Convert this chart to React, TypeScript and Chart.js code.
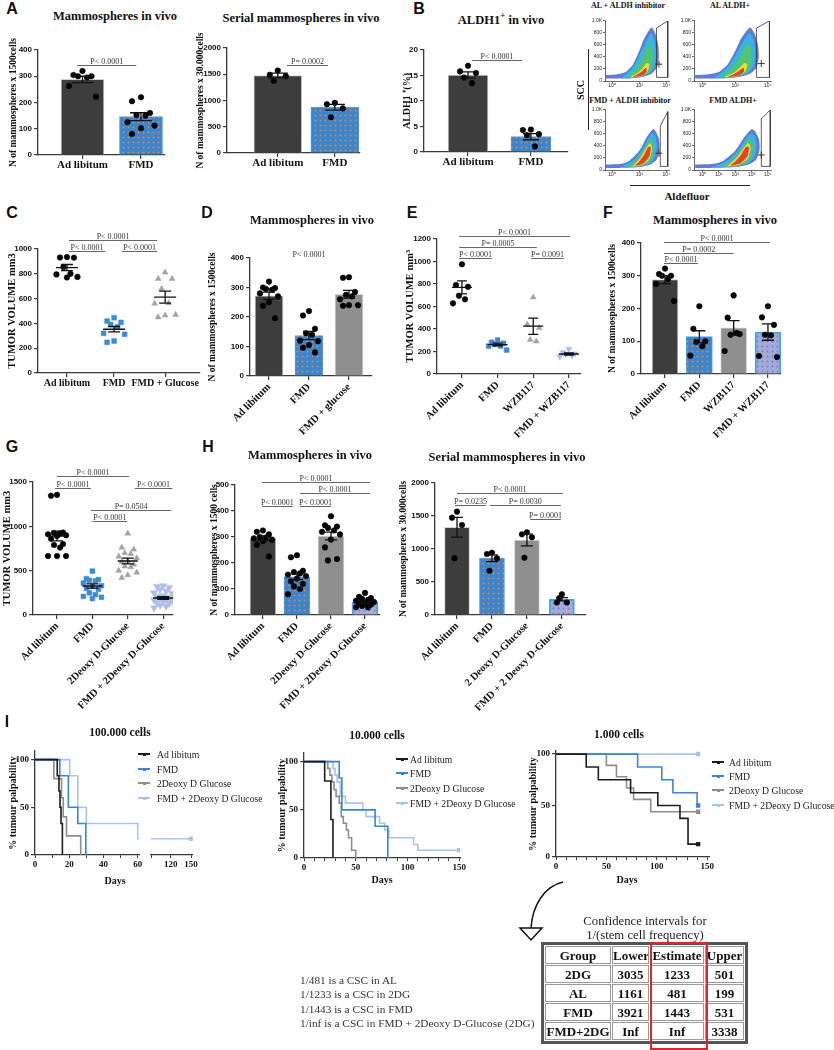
import React, { useEffect, useMemo, useRef } from 'react';
import { Chart, registerables } from 'chart.js';

Chart.register(...registerables);

const SERIF = '"Liberation Serif", "Times New Roman", serif';
const SANS = '"Liberation Sans", Arial, sans-serif';
const AX = '#3a3a3a';

/* ======================= DATA ======================= */
// A — Mammospheres in vivo
const A1_CATS = ['Ad libitum', 'FMD'];
const A1_MEAN = [288, 146];
const A1_SEM = [12, 15];
const A1_AL = [320, 305, 300, 300, 295, 263, 222];
const A1_FMD = [220, 205, 160, 152, 150, 125, 112, 102, 80];
// A — Serial mammospheres in vivo
const A2_CATS = ['Ad libitum', 'FMD'];
const A2_MEAN = [1475, 870];
const A2_SEM = [45, 55];
const A2_AL = [1570, 1490, 1465, 1375];
const A2_FMD = [955, 930, 850, 680];
// B — ALDH1+ in vivo
const B_CATS = ['Ad libitum', 'FMD'];
const B_MEAN = [15.1, 3.0];
const B_SEM = [0.6, 0.6];
const B_AL = [16.9, 15.8, 15.5, 14.6, 13.5];
const B_FMD = [4.4, 4.3, 3.5, 3.3, 1.1];
// C — tumor volume
const C_CATS = ['Ad libitum', 'FMD', 'FMD + Glucose'];
const C_MEAN = [850, 353, 612];
const C_SEM = [25, 22, 48];
const C_AL = [935, 932, 930, 855, 800, 795, 775, 770];
const C_FMD = [446, 419, 408, 392, 373, 320, 312, 258, 247];
const C_GLU = [812, 760, 760, 680, 565, 560, 470, 465, 450];
// D — mammospheres
const D_CATS = ['Ad libitum', 'FMD', 'FMD + glucose'];
const D_MEAN = [272, 137, 277];
const D_SEM = [12, 14, 13];
const D_AL = [320, 300, 298, 295, 292, 280, 270, 250, 238, 196];
const D_FMD = [220, 205, 160, 145, 140, 120, 118, 105, 96, 80];
const D_GLU = [335, 333, 285, 275, 270, 260, 240, 240, 238];
// E — tumor volume WZB117
const E_CATS = ['Ad libitum', 'FMD', 'WZB117', 'FMD + WZB117'];
const E_MEAN = [770, 262, 425, 178];
const E_SEM = [58, 12, 72, 10];
const E_AL = [975, 791, 776, 696, 664, 628];
const E_FMD = [302, 282, 273, 262, 249, 248, 213];
const E_WZB = [682, 440, 410, 305, 290];
const E_CMB = [222, 192, 180, 175, 165, 155];
// F — mammospheres WZB117
const F_CATS = ['Ad libitum', 'FMD', 'WZB117', 'FMD + WZB117'];
const F_MEAN = [288, 114, 141, 128];
const F_SEM = [12, 18, 22, 25];
const F_AL = [322, 305, 300, 300, 290, 275, 223];
const F_FMD = [207, 138, 100, 98, 85, 56];
const F_WZB = [240, 172, 122, 120, 125, 70];
const F_CMB = [207, 173, 150, 120, 118, 55, 52];
// G — tumor volume 2DG
const G_CATS = ['Ad libitum', 'FMD', '2Deoxy D-Glucose', 'FMD + 2Deoxy D-Glucose'];
const G_MEAN = [890, 327, 609, 192];
const G_SEM = [55, 25, 32, 15];
const G_AL = [1355, 1345, 930, 925, 920, 910, 900, 890, 860, 800, 790, 760, 665, 665, 665];
const G_FMD = [495, 410, 400, 390, 385, 360, 330, 320, 300, 290, 250, 230, 210, 200, 185];
const G_2DG = [920, 760, 740, 700, 690, 660, 640, 610, 600, 570, 550, 540, 500, 480, 450, 420];
const G_CMB = [330, 320, 310, 290, 270, 250, 240, 220, 210, 200, 190, 180, 170, 160, 150, 140, 130, 110, 100, 80];
// H — mammospheres 2DG
const H1_CATS = ['Ad libitum', 'FMD', '2Deoxy D-Glucose', 'FMD + 2Deoxy D-Glucose'];
const H1_MEAN = [295, 147, 304, 49];
const H1_SEM = [9, 11, 15, 4];
const H1_AL = [325, 320, 310, 300, 298, 295, 290, 285, 270, 225];
const H1_FMD = [230, 222, 170, 165, 160, 155, 150, 140, 130, 120, 110, 100, 80];
const H1_2DG = [380, 345, 340, 335, 325, 320, 310, 290, 260, 215, 210];
const H1_CMB = [85, 70, 65, 62, 58, 55, 50, 45, 45, 40, 35, 30, 30];
// H — serial mammospheres 2DG
const H2_CATS = ['Ad libitum', 'FMD', '2 Deoxy D-Glucose', 'FMD + 2 Deoxy D-Glucose'];
const H2_MEAN = [1330, 860, 1136, 238];
const H2_SEM = [150, 50, 90, 25];
const H2_AL = [1566, 1475, 1364, 859];
const H2_FMD = [944, 924, 859, 671];
const H2_2DG = [1252, 1222, 1177, 868];
const H2_CMB = [315, 190, 190, 255];

// I — Kaplan-Meier (tumour palpability, %)
const KM_NAMES = ['Ad libitum', 'FMD', '2Deoxy D Glucose', 'FMD + 2Deoxy D Glucose'];
const KM_COLORS = ['#1c1c1c', '#3a86d4', '#8d8d8d', '#a9c3ee'];
// 100.000 cells
const I1_AL_T = [0, 13, 14, 14.6, 15.2, 16];
const I1_AL_S = [100, 83, 67, 50, 33, 0];
const I1_FMD_T = [0, 14.5, 19.5, 25, 29.7];
const I1_FMD_S = [100, 83, 50, 33, 0];
const I1_2DG_T = [0, 11, 15.5, 16.5, 18.4, 26.7];
const I1_2DG_S = [100, 80, 60, 40, 20, 0];
const I1_CMB_T = [0, 20.3, 25, 30, 60, 150];
const I1_CMB_S = [100, 83, 50, 33, 17, 17];
// 10.000 cells
const I2_AL_T = [0, 20, 26, 28];
const I2_AL_S = [100, 80, 40, 0];
const I2_FMD_T = [0, 34, 36.6, 68.7, 81];
const I2_FMD_S = [100, 83, 50, 33, 0];
const I2_2DG_T = [0, 23, 25, 27, 29, 31, 34, 36, 38, 41, 43, 46, 50];
const I2_2DG_S = [100, 93, 86, 79, 71, 64, 57, 43, 36, 29, 21, 8, 0];
const I2_CMB_T = [0, 28, 30, 32, 35, 40, 57, 60, 73, 78, 82, 106, 110, 150];
const I2_CMB_S = [100, 93, 86, 79, 64, 57, 50, 43, 36, 29, 21, 14, 8, 8];
// 1.000 cells
const I3_AL_T = [0, 30, 42, 74, 101, 123, 131, 141];
const I3_AL_S = [100, 87.5, 75, 62.5, 50, 37.5, 12.5, 12.5];
const I3_FMD_T = [0, 81, 105, 116, 140, 141];
const I3_FMD_S = [100, 87.5, 75, 62.5, 50, 50];
const I3_2DG_T = [0, 50, 60, 70, 77, 94, 141];
const I3_2DG_S = [100, 89, 78, 67, 56, 44, 44];
const I3_CMB_T = [0, 141];
const I3_CMB_S = [100, 100];

// B — flow cytometry density contours (log10 Aldefluor, SCC)
const CLOUD_COLORS = ['#5f7cd9', '#38b4e0', '#52c470', '#e6dc3c', '#e4422c'];
const CLOUD_AL = [
  [[-0.45, 40], [0.5, 40], [1.5, 45], [2.3, 70], [2.9, 120], [3.3, 220], [3.45, 400], [3.4, 600], [3.2, 780], [2.95, 890], [2.8, 870], [2.35, 700], [2.0, 500], [1.5, 260], [1.0, 150], [0.3, 110], [-0.45, 100]],
  [[0.8, 50], [1.6, 55], [2.3, 80], [2.8, 140], [3.15, 260], [3.25, 450], [3.15, 650], [2.9, 800], [2.6, 700], [2.2, 520], [1.8, 330], [1.4, 190], [1.0, 110], [0.8, 80]],
  [[1.2, 55], [1.9, 68], [2.5, 110], [2.9, 220], [3.0, 400], [2.9, 600], [2.6, 560], [2.3, 400], [1.9, 250], [1.5, 140], [1.2, 85]],
  [[1.4, 60], [2.1, 80], [2.6, 150], [2.75, 280], [2.55, 300], [2.2, 200], [1.8, 120], [1.4, 80]],
  [[1.6, 65], [2.2, 90], [2.55, 160], [2.5, 220], [2.2, 160], [1.8, 100], [1.6, 80]],
];
const CLOUD_FMD = [
  [[-0.45, 35], [0.5, 35], [1.5, 40], [2.3, 60], [2.9, 100], [3.3, 180], [3.5, 350], [3.45, 520], [3.2, 650], [3.0, 680], [2.6, 560], [2.0, 320], [1.3, 160], [0.8, 110], [0.2, 95], [-0.45, 90]],
  [[0.8, 45], [1.6, 50], [2.4, 75], [2.9, 130], [3.2, 250], [3.3, 420], [3.15, 580], [2.9, 600], [2.55, 480], [2.1, 300], [1.6, 170], [1.1, 95], [0.8, 70]],
  [[1.2, 52], [2.0, 65], [2.6, 110], [3.0, 230], [3.1, 420], [2.9, 520], [2.6, 430], [2.2, 280], [1.8, 160], [1.4, 95], [1.2, 70]],
  [[1.5, 58], [2.2, 85], [2.75, 180], [2.95, 360], [2.8, 450], [2.5, 360], [2.1, 210], [1.7, 110]],
  [[1.7, 68], [2.3, 110], [2.75, 230], [2.85, 380], [2.65, 380], [2.35, 250], [2.0, 140], [1.75, 85]],
];
const GATE_TL = [[3.27, 60], [3.27, 880], [4.1, 1000], [4.1, 60], [3.27, 60]];
const GATE_TR = [[3.3, 60], [3.3, 880], [4.1, 1000], [4.1, 60], [3.3, 60]];
const GATE_BL = [[3.55, 60], [3.55, 730], [4.1, 970], [4.1, 60], [3.55, 60]];
const GATE_BR = [[3.6, 60], [3.6, 850], [4.15, 1000], [4.15, 60], [3.6, 60]];

// LDA table
const T_GROUPS = ['2DG', 'AL', 'FMD', 'FMD+2DG'];
const T_LOWER = ['3035', '1161', '3921', 'Inf'];
const T_EST = ['1233', '481', '1443', 'Inf'];
const T_UPPER = ['501', '199', '531', '3338'];
const CSC_LINES = [
  '1/481 is a CSC in AL',
  '1/1233 is a CSC in 2DG',
  '1/1443 is a CSC in FMD',
  '1/inf is a CSC in FMD + 2Deoxy D-Glucose (2DG)',
];

/* ======================= HELPERS ======================= */
type Plot = { l: number; t: number; r: number; b: number };
type Rect = { left: number; top: number; width: number; height: number };
type Spec = { rect: Rect; make: () => any };

const JIT = [0, -1, 1, -0.5, 0.5, -1.5, 1.5];

function rectOf(p: Plot, m: { l: number; t: number; r: number; b: number }): Rect {
  return { left: p.l - m.l, top: p.t - m.t, width: p.r - p.l + m.l + m.r, height: p.b - p.t + m.t + m.b };
}

const FILLS: Record<string, { bg: string; dot?: string; border: string; bw: number }> = {
  dark: { bg: '#3d3d3d', border: '#d0d0d0', bw: 1 },
  fmd: { bg: '#3a85d0', dot: '#e0883a', border: '#5d9ad8', bw: 1 },
  gray: { bg: '#8f8f8f', border: '#d4d4d4', bw: 1 },
  combo: { bg: '#a4abd8', dot: '#7580bd', border: '#3ca8ea', bw: 2 },
};

function paint(key: string): any {
  const f = FILLS[key];
  if (!f.dot) return f.bg;
  const c = document.createElement('canvas');
  c.width = 5;
  c.height = 5;
  const g = c.getContext('2d') as CanvasRenderingContext2D;
  g.fillStyle = f.bg;
  g.fillRect(0, 0, 5, 5);
  g.fillStyle = f.dot;
  g.beginPath();
  g.arc(2.5, 2.5, 0.95, 0, Math.PI * 2);
  g.fill();
  return g.createPattern(c, 'repeat');
}

interface Group { values: number[]; shape?: string; color?: string; r?: number; rot?: number }
interface Bracket { x1: number; x2: number; y: number; text: string }
interface DotSpec {
  plot: Plot; mt: number; mr: number; mb: number;
  yTitle: string; yTitleX: number; yTitleSize?: number;
  cats: string[]; pos?: number[]; rotate: boolean; catSize: number;
  xMin: number; xMax: number; yMax: number; yStep: number;
  means: number[]; sems: number[];
  bars?: { fills: string[]; thickness: number };
  meanW?: number; cap: number;
  groups: Group[]; spreadPx: number;
  brackets: Bracket[];
  notes?: { x: number; y: number; text: string }[];
}

const posOf = (s: DotSpec, i: number) => (s.pos ? s.pos[i] : i);

function annotPlugin(s: DotSpec) {
  return {
    id: 'annot',
    afterDatasetsDraw(chart: any) {
      const ctx = chart.ctx;
      const xs = chart.scales.x;
      const ys = chart.scales.y;
      ctx.save();
      ctx.strokeStyle = '#111';
      ctx.lineWidth = 1.3;
      s.means.forEach((mu, i) => {
        const px = xs.getPixelForValue(posOf(s, i));
        const hi = ys.getPixelForValue(mu + s.sems[i]);
        const lo = ys.getPixelForValue(mu - s.sems[i]);
        const py = ys.getPixelForValue(mu);
        ctx.beginPath();
        if (s.meanW) {
          ctx.moveTo(px - s.meanW / 2, py);
          ctx.lineTo(px + s.meanW / 2, py);
        }
        ctx.moveTo(px, hi);
        ctx.lineTo(px, lo);
        ctx.moveTo(px - s.cap / 2, hi);
        ctx.lineTo(px + s.cap / 2, hi);
        ctx.moveTo(px - s.cap / 2, lo);
        ctx.lineTo(px + s.cap / 2, lo);
        ctx.stroke();
      });
      ctx.strokeStyle = '#666';
      ctx.lineWidth = 1;
      ctx.fillStyle = '#333';
      ctx.font = `8px ${SERIF}`;
      ctx.textAlign = 'center';
      ctx.textBaseline = 'alphabetic';
      s.brackets.forEach((b) => {
        const x1 = xs.getPixelForValue(b.x1);
        const x2 = xs.getPixelForValue(b.x2);
        const y = Math.round(ys.getPixelForValue(b.y)) + 0.5;
        ctx.beginPath();
        ctx.moveTo(x1, y);
        ctx.lineTo(x2, y);
        ctx.stroke();
        ctx.fillText(b.text, (x1 + x2) / 2, y - 2);
      });
      ctx.textBaseline = 'middle';
      (s.notes || []).forEach((n) => {
        ctx.fillText(n.text, xs.getPixelForValue(n.x), ys.getPixelForValue(n.y));
      });
      ctx.restore();
    },
  };
}

function dotChart(s: DotSpec): Spec {
  const left = s.yTitleX - 8;
  const m = { l: s.plot.l - left, t: s.mt, r: s.mr, b: s.mb };
  const rect = rectOf(s.plot, m);
  const ppu = (s.plot.r - s.plot.l) / (s.xMax - s.xMin);
  const make = () => {
    const datasets: any[] = [];
    if (s.bars) {
      datasets.push({
        type: 'bar',
        data: s.means.map((v, i) => ({ x: posOf(s, i), y: v })),
        backgroundColor: s.bars.fills.map(paint),
        borderColor: s.bars.fills.map((f) => FILLS[f].border),
        borderWidth: s.bars.fills.map((f) => FILLS[f].bw),
        barThickness: s.bars.thickness,
        order: 3,
      });
    }
    s.groups.forEach((g, gi) => {
      datasets.push({
        type: 'scatter',
        data: g.values.map((v, k) => ({ x: posOf(s, gi) + (JIT[k % JIT.length] * s.spreadPx) / ppu, y: v })),
        pointStyle: g.shape || 'circle',
        pointRadius: g.r || 2.8,
        pointRotation: g.rot || 0,
        backgroundColor: g.color || '#000',
        borderColor: g.color || '#000',
        borderWidth: 0.5,
        order: 1,
      });
    });
    return {
      type: s.bars ? 'bar' : 'scatter',
      data: { datasets },
      options: {
        responsive: false,
        animation: false,
        events: [],
        layout: { padding: { top: m.t, right: m.r, bottom: 0, left: 0 } },
        plugins: { legend: { display: false }, tooltip: { enabled: false } },
        scales: {
          x: {
            type: 'linear', min: s.xMin, max: s.xMax, offset: false,
            afterFit: (sc: any) => { sc.height = m.b; },
            afterBuildTicks: (sc: any) => { sc.ticks = s.cats.map((_, i) => ({ value: posOf(s, i) })); },
            ticks: {
              autoSkip: false, maxRotation: s.rotate ? 45 : 0, minRotation: s.rotate ? 45 : 0,
              padding: s.rotate ? 1 : 0, color: '#111',
              font: { family: SERIF, size: s.catSize, weight: 'bold' },
              callback: (_v: any, idx: number) => (s.cats[idx] !== undefined ? s.cats[idx] : ''),
            },
            grid: { offset: false, drawOnChartArea: false, drawTicks: true, tickLength: 4, color: AX, lineWidth: 1.2 },
            border: { display: true, color: AX, width: 1.3 },
          },
          y: {
            type: 'linear', min: 0, max: s.yMax,
            afterFit: (sc: any) => { sc.width = m.l; },
            afterBuildTicks: (sc: any) => {
              const t: any[] = [];
              for (let v = 0; v <= s.yMax + 1e-9; v += s.yStep) t.push({ value: v });
              sc.ticks = t;
            },
            ticks: { color: '#111', padding: 2, font: { family: SANS, size: 8, weight: 'bold' }, callback: (v: any) => String(v) },
            grid: { drawOnChartArea: false, tickLength: 4, color: AX, lineWidth: 1.2 },
            border: { color: AX, width: 1.3 },
            title: {
              display: true, text: s.yTitle, color: '#111',
              font: { family: SERIF, size: s.yTitleSize || 9.5, weight: 'bold' },
              padding: { top: 2, bottom: 0 },
            },
          },
        },
      },
      plugins: [annotPlugin(s)],
    };
  };
  return { rect, make };
}

interface KMSeries { t: number[]; s: number[]; color: string; censor: boolean }
interface KMSpec {
  plot: Plot; showY: boolean; yTitleX: number;
  xMin: number; xMax: number; xTicks: number[]; xLabels: number[]; yMax: number;
  series: KMSeries[];
}

function kmChart(k: KMSpec): Spec {
  const left = k.showY ? k.yTitleX - 8 : k.plot.l - 4;
  const m = { l: k.plot.l - left, t: 8, r: 5, b: 18 };
  const rect = rectOf(k.plot, m);
  const make = () => ({
    type: 'line',
    data: {
      datasets: k.series.map((se) => ({
        data: se.t.map((t, i) => ({ x: t, y: se.s[i] })),
        borderColor: se.color,
        backgroundColor: se.color,
        borderWidth: 1.6,
        stepped: 'before',
        fill: false,
        pointStyle: 'rect',
        pointRadius: (c: any) => (se.censor && c.dataIndex === se.t.length - 1 ? 2 : 0),
        clip: { left: 0, right: 0, top: 4, bottom: 4 },
      })),
    },
    options: {
      responsive: false,
      animation: false,
      events: [],
      layout: { padding: { top: m.t, right: m.r, bottom: 0, left: k.showY ? 0 : m.l } },
      plugins: { legend: { display: false }, tooltip: { enabled: false } },
      scales: {
        x: {
          type: 'linear', min: k.xMin, max: k.xMax,
          afterFit: (sc: any) => { sc.height = m.b; },
          afterBuildTicks: (sc: any) => { sc.ticks = k.xTicks.map((v) => ({ value: v })); },
          ticks: {
            autoSkip: false, maxRotation: 0, padding: 1, color: '#111',
            font: { family: SERIF, size: 9, weight: 'bold' },
            callback: (v: any) => (k.xLabels.indexOf(v) >= 0 ? String(v) : ''),
          },
          grid: { drawOnChartArea: false, tickLength: 3, color: AX, lineWidth: 1 },
          border: { color: AX, width: 1.3 },
        },
        y: {
          display: k.showY, min: 0, max: k.yMax,
          afterFit: (sc: any) => { sc.width = m.l; },
          afterBuildTicks: (sc: any) => { sc.ticks = [0, 50, 100].map((v) => ({ value: v })); },
          ticks: { color: '#111', padding: 2, font: { family: SERIF, size: 9, weight: 'bold' } },
          grid: { drawOnChartArea: false, tickLength: 4, color: AX, lineWidth: 1.2 },
          border: { color: AX, width: 1.3 },
          title: {
            display: true, text: '% tumour palpability', color: '#111',
            font: { family: SERIF, size: 10, weight: 'bold' }, padding: { top: 2, bottom: 0 },
          },
        },
      },
    },
  });
  return { rect, make };
}

const SUP = ['⁰', '¹', '²', '³', '⁴'];

function flowChart(p: Plot, cloud: number[][][], gate: number[][], cross: number[], xt: number[]): Spec {
  const m = { l: 17, t: 3, r: 3, b: 10 };
  const rect = rectOf(p, m);
  const make = () => ({
    type: 'scatter',
    data: {
      datasets: [
        ...cloud.map((poly, k) => ({
          type: 'line',
          data: poly.map((q) => ({ x: Math.pow(10, q[0]), y: q[1] })),
          fill: 'shape',
          backgroundColor: CLOUD_COLORS[k],
          borderColor: 'rgba(0,0,0,0)',
          borderWidth: 0,
          pointRadius: 0,
          tension: 0.2,
          order: 10 - k,
        })),
        {
          type: 'line',
          data: gate.map((q) => ({ x: Math.pow(10, q[0]), y: q[1] })),
          fill: false,
          borderColor: '#333',
          borderWidth: 0.8,
          pointRadius: 0,
          order: 1,
        },
        {
          type: 'scatter',
          data: [{ x: Math.pow(10, cross[0]), y: cross[1] }],
          pointStyle: 'cross',
          pointRadius: 3.5,
          borderColor: '#222',
          borderWidth: 0.9,
          order: 0,
        },
      ],
    },
    options: {
      responsive: false,
      animation: false,
      events: [],
      layout: { padding: { top: m.t, right: m.r, bottom: 0, left: 0 } },
      plugins: { legend: { display: false }, tooltip: { enabled: false } },
      scales: {
        x: {
          type: 'logarithmic', min: Math.pow(10, -0.5), max: Math.pow(10, 4.2),
          afterFit: (sc: any) => { sc.height = m.b; },
          afterBuildTicks: (sc: any) => { sc.ticks = xt.map((v) => ({ value: Math.pow(10, v) })); },
          ticks: {
            autoSkip: false, maxRotation: 0, padding: 0, color: '#222',
            font: { family: SANS, size: 5 },
            callback: (v: any) => '10' + SUP[Math.round(Math.log10(v))],
          },
          grid: { drawOnChartArea: false, tickLength: 2, color: '#444', lineWidth: 0.8 },
          border: { color: '#444', width: 0.8 },
        },
        y: {
          min: 0, max: 1000,
          afterFit: (sc: any) => { sc.width = m.l; },
          afterBuildTicks: (sc: any) => { sc.ticks = [0, 200, 400, 600, 800, 1000].map((v) => ({ value: v })); },
          ticks: {
            color: '#222', padding: 1, font: { family: SANS, size: 5 },
            callback: (v: any) => (v === 1000 ? '1.0K' : String(v)),
          },
          grid: { drawOnChartArea: false, tickLength: 2, color: '#444', lineWidth: 0.8 },
          border: { color: '#444', width: 0.8 },
        },
      },
    },
  });
  return { rect, make };
}

/* ======================= SPECS ======================= */
const CIRC = (values: number[]): Group => ({ values, shape: 'circle', color: '#000', r: 2.8 });
const SQ = (values: number[]): Group => ({ values, shape: 'rect', color: '#3d8ad6', r: 3.4 });
const TRI = (values: number[]): Group => ({ values, shape: 'triangle', color: '#a3a3a3', r: 3.4 });
const INV = (values: number[], r: number): Group => ({ values, shape: 'triangle', color: '#b0bdea', r, rot: 180 });
const TEN = [0, 10, 20, 30, 40, 50, 60, 70, 80, 90, 100, 110, 120, 130, 140, 150];

function buildSpecs(): Spec[] {
  const specs: Spec[] = [];
  specs.push(dotChart({
    plot: { l: 38, t: 50, r: 165, b: 155 }, mt: 15, mr: 8, mb: 28,
    yTitle: 'N of mammospheres x 1500cells', yTitleX: 14,
    cats: A1_CATS, rotate: false, catSize: 11, xMin: -0.76, xMax: 1.41, yMax: 400, yStep: 100,
    means: A1_MEAN, sems: A1_SEM, bars: { fills: ['dark', 'fmd'], thickness: 43 }, cap: 22,
    groups: [CIRC(A1_AL), CIRC(A1_FMD)], spreadPx: 9,
    brackets: [{ x1: -0.09, x2: 0.92, y: 343, text: 'P< 0.0001' }],
  }));
  specs.push(dotChart({
    plot: { l: 227, t: 48, r: 360, b: 153 }, mt: 15, mr: 8, mb: 28,
    yTitle: 'N of mammospheres x 30.000cells', yTitleX: 201,
    cats: A2_CATS, rotate: false, catSize: 11, xMin: -0.89, xMax: 1.44, yMax: 2000, yStep: 500,
    means: A2_MEAN, sems: A2_SEM, bars: { fills: ['dark', 'fmd'], thickness: 48 }, cap: 20,
    groups: [CIRC(A2_AL), CIRC(A2_FMD)], spreadPx: 8,
    brackets: [{ x1: 0.16, x2: 0.88, y: 1676, text: 'P= 0.0002' }],
  }));
  specs.push(dotChart({
    plot: { l: 424, t: 50, r: 568, b: 152 }, mt: 15, mr: 8, mb: 28,
    yTitle: 'ALDH1 ⁺(%)', yTitleX: 407, yTitleSize: 10,
    cats: B_CATS, rotate: false, catSize: 11, xMin: -0.7, xMax: 1.59, yMax: 20, yStep: 5,
    means: B_MEAN, sems: B_SEM, bars: { fills: ['dark', 'fmd'], thickness: 40 }, cap: 16,
    groups: [CIRC(B_AL), CIRC(B_FMD)], spreadPx: 8,
    brackets: [{ x1: 0.06, x2: 0.86, y: 18, text: 'P< 0.0001' }],
  }));
  specs.push(dotChart({
    plot: { l: 38, t: 249, r: 200, b: 373 }, mt: 22, mr: 8, mb: 24,
    yTitle: 'TUMOR VOLUME mm3', yTitleX: 12, yTitleSize: 10.5,
    cats: C_CATS, pos: [0, 0.96, 2], rotate: false, catSize: 10, xMin: -0.59, xMax: 2.71, yMax: 1000, yStep: 200,
    means: C_MEAN, sems: C_SEM, meanW: 22, cap: 12,
    groups: [CIRC(C_AL), SQ(C_FMD), TRI(C_GLU)], spreadPx: 7,
    brackets: [
      { x1: 0.04, x2: 1.84, y: 1073, text: 'P< 0.0001' },
      { x1: 0.04, x2: 0.78, y: 984, text: 'P< 0.0001' },
      { x1: 1.12, x2: 1.84, y: 984, text: 'P< 0.0001' },
    ],
  }));
  specs.push(dotChart({
    plot: { l: 250, t: 258, r: 372, b: 376 }, mt: 14, mr: 6, mb: 80,
    yTitle: 'N of mammospheres x 1500cells', yTitleX: 213,
    cats: D_CATS, rotate: true, catSize: 10.5, xMin: -0.475, xMax: 2.575, yMax: 400, yStep: 100,
    means: D_MEAN, sems: D_SEM, bars: { fills: ['dark', 'fmd', 'gray'], thickness: 28 }, cap: 12,
    groups: [CIRC(D_AL), CIRC(D_FMD), CIRC(D_GLU)], spreadPx: 6,
    brackets: [], notes: [{ x: 1, y: 410, text: 'P< 0.0001' }],
  }));
  specs.push(dotChart({
    plot: { l: 437, t: 239, r: 581, b: 374 }, mt: 14, mr: 6, mb: 90,
    yTitle: 'TUMOR VOLUME mm³', yTitleX: 410, yTitleSize: 10.5,
    cats: E_CATS, rotate: true, catSize: 10.5, xMin: -0.7, xMax: 3.34, yMax: 1200, yStep: 200,
    means: E_MEAN, sems: E_SEM, meanW: 20, cap: 10,
    groups: [CIRC(E_AL), SQ(E_FMD), TRI(E_WZB), INV(E_CMB, 3.6)], spreadPx: 6,
    brackets: [
      { x1: -0.08, x2: 3.03, y: 1227, text: 'P< 0.0001' },
      { x1: -0.08, x2: 2.1, y: 1129, text: 'P= 0.0005' },
      { x1: -0.08, x2: 0.84, y: 1031, text: 'P< 0.0001' },
      { x1: 1.94, x2: 2.86, y: 1031, text: 'P= 0.0091' },
    ],
  }));
  specs.push(dotChart({
    plot: { l: 641, t: 243, r: 781, b: 374 }, mt: 14, mr: 6, mb: 90,
    yTitle: 'N of mammospheres x 1500cells', yTitleX: 613,
    cats: F_CATS, rotate: true, catSize: 10.5, xMin: -0.7, xMax: 3.38, yMax: 400, yStep: 100,
    means: F_MEAN, sems: F_SEM, bars: { fills: ['dark', 'fmd', 'gray', 'combo'], thickness: 26 }, cap: 12,
    groups: [CIRC(F_AL), CIRC(F_FMD), CIRC(F_WZB), CIRC(F_CMB)], spreadPx: 6,
    brackets: [
      { x1: -0.03, x2: 3.06, y: 403, text: 'P< 0.0001' },
      { x1: -0.03, x2: 2.0, y: 369, text: 'P= 0.0002' },
      { x1: -0.03, x2: 0.96, y: 339, text: 'P< 0.0001' },
    ],
  }));
  specs.push(dotChart({
    plot: { l: 33, t: 482, r: 173, b: 615 }, mt: 16, mr: 6, mb: 105,
    yTitle: 'TUMOR VOLUME mm3', yTitleX: 7, yTitleSize: 10.5,
    cats: G_CATS, rotate: true, catSize: 10.5, xMin: -0.68, xMax: 3.28, yMax: 1500, yStep: 500,
    means: G_MEAN, sems: G_SEM, meanW: 20, cap: 12,
    groups: [CIRC(G_AL), SQ(G_FMD), TRI(G_2DG), INV(G_CMB, 4.2)], spreadPx: 6,
    brackets: [
      { x1: 0, x2: 2.04, y: 1568, text: 'P< 0.0001' },
      { x1: -0.06, x2: 0.96, y: 1432, text: 'P< 0.0001' },
      { x1: 2.2, x2: 3.26, y: 1432, text: 'P< 0.0001' },
      { x1: 0.96, x2: 3.23, y: 1184, text: 'P= 0.0504' },
      { x1: 1.0, x2: 1.98, y: 1060, text: 'P< 0.0001' },
    ],
  }));
  specs.push(dotChart({
    plot: { l: 235, t: 485, r: 380, b: 615 }, mt: 12, mr: 6, mb: 105,
    yTitle: 'N of mammospheres x 1500 cells', yTitleX: 215,
    cats: H1_CATS, rotate: true, catSize: 10.5, xMin: -0.82, xMax: 3.44, yMax: 500, yStep: 100,
    means: H1_MEAN, sems: H1_SEM, bars: { fills: ['dark', 'fmd', 'gray', 'combo'], thickness: 26 }, cap: 12,
    groups: [CIRC(H1_AL), CIRC(H1_FMD), CIRC(H1_2DG), CIRC(H1_CMB)], spreadPx: 6,
    brackets: [
      { x1: -0.03, x2: 3.15, y: 512, text: 'P< 0.0001' },
      { x1: 1.09, x2: 3.15, y: 469, text: 'P< 0.0001' },
      { x1: -0.03, x2: 0.88, y: 419, text: 'P< 0.0001' },
      { x1: 1.09, x2: 2.0, y: 419, text: 'P< 0.0001' },
    ],
  }));
  specs.push(dotChart({
    plot: { l: 435, t: 483, r: 586, b: 615 }, mt: 12, mr: 6, mb: 112,
    yTitle: 'N of mammospheres x 30.000cells', yTitleX: 404,
    cats: H2_CATS, rotate: true, catSize: 10.5, xMin: -0.63, xMax: 3.69, yMax: 2000, yStep: 500,
    means: H2_MEAN, sems: H2_SEM, bars: { fills: ['dark', 'fmd', 'gray', 'combo'], thickness: 25 }, cap: 12,
    groups: [CIRC(H2_AL), CIRC(H2_FMD), CIRC(H2_2DG), CIRC(H2_CMB)], spreadPx: 5,
    brackets: [
      { x1: 0, x2: 3.03, y: 1848, text: 'P< 0.0001' },
      { x1: -0.06, x2: 0.83, y: 1667, text: 'P= 0.0235' },
      { x1: 0.94, x2: 2.97, y: 1667, text: 'P= 0.0030' },
      { x1: 2.09, x2: 2.97, y: 1455, text: 'P= 0.0001' },
    ],
  }));

  const ser = (ts: number[][], ss: number[][], cens: boolean[]): KMSeries[] =>
    ts.map((t, i) => ({ t, s: ss[i], color: KM_COLORS[i], censor: cens[i] }));
  const I1 = ser([I1_AL_T, I1_FMD_T, I1_2DG_T, I1_CMB_T], [I1_AL_S, I1_FMD_S, I1_2DG_S, I1_CMB_S], [false, false, false, true]);
  const I2 = ser([I2_AL_T, I2_FMD_T, I2_2DG_T, I2_CMB_T], [I2_AL_S, I2_FMD_S, I2_2DG_S, I2_CMB_S], [false, false, false, true]);
  const I3 = ser([I3_AL_T, I3_FMD_T, I3_2DG_T, I3_CMB_T], [I3_AL_S, I3_FMD_S, I3_2DG_S, I3_CMB_S], [true, true, true, true]);
  specs.push(kmChart({ plot: { l: 35, t: 751, r: 140, b: 855 }, showY: true, yTitleX: 13, xMin: 0, xMax: 61, xTicks: [0, 10, 20, 30, 40, 50, 60], xLabels: [0, 20, 40, 60], yMax: 109, series: I1 }));
  specs.push(kmChart({ plot: { l: 147, t: 751, r: 194, b: 855 }, showY: false, yTitleX: 0, xMin: 91, xMax: 152.6, xTicks: [91, 120, 150], xLabels: [120, 150], yMax: 109, series: I1 }));
  specs.push(kmChart({ plot: { l: 304, t: 753, r: 462, b: 858 }, showY: true, yTitleX: 282, xMin: 0, xMax: 151, xTicks: TEN, xLabels: [0, 50, 100, 150], yMax: 109, series: I2 }));
  specs.push(kmChart({ plot: { l: 556, t: 751, r: 710, b: 857 }, showY: true, yTitleX: 533, xMin: 0, xMax: 152, xTicks: TEN, xLabels: [0, 50, 100, 150], yMax: 103, series: I3 }));

  specs.push(flowChart({ l: 605, t: 19, r: 671, b: 81 }, CLOUD_AL, GATE_TL, [3.45, 280], [0, 2, 4]));
  specs.push(flowChart({ l: 694, t: 19, r: 773, b: 81 }, CLOUD_AL, GATE_TR, [3.6, 290], [0, 2, 4]));
  specs.push(flowChart({ l: 605, t: 108, r: 671, b: 170 }, CLOUD_FMD, GATE_BL, [3.45, 280], [0, 2, 4]));
  specs.push(flowChart({ l: 694, t: 108, r: 773, b: 170 }, CLOUD_FMD, GATE_BR, [3.6, 250], [0, 1, 2, 3, 4]));
  return specs;
}

/* ======================= COMPONENTS ======================= */
function ChartBox({ spec }: { spec: Spec }) {
  const ref = useRef<HTMLCanvasElement | null>(null);
  useEffect(() => {
    if (!ref.current) return;
    const chart = new Chart(ref.current, spec.make());
    return () => chart.destroy();
  }, [spec]);
  const r = spec.rect;
  return (
    <canvas
      ref={ref}
      width={r.width}
      height={r.height}
      style={{ position: 'absolute', left: r.left, top: r.top, width: r.width, height: r.height }}
    />
  );
}

function T(props: { x: number; y: number; size?: number; bold?: boolean; family?: string; rot?: number; left?: boolean; color?: string; children: any }) {
  const { x, y, size = 12.5, bold = true, family = SERIF, rot = 0, left = false, color = '#111', children } = props;
  return (
    <div
      style={{
        position: 'absolute', left: x, top: y, whiteSpace: 'nowrap', lineHeight: 1,
        transform: `${left ? 'translate(0,-50%)' : 'translate(-50%,-50%)'} rotate(${rot}deg)`,
        font: `${bold ? 'bold ' : ''}${size}px ${family}`, color,
      }}
    >
      {children}
    </div>
  );
}

function KMLegend({ x, tx, ys }: { x: number; tx: number; ys: number[] }) {
  return (
    <>
      {KM_NAMES.map((n, i) => (
        <React.Fragment key={i}>
          <div style={{ position: 'absolute', left: x, top: ys[i] - 0.75, width: 12, height: 1.5, background: KM_COLORS[i] }} />
          <div style={{ position: 'absolute', left: x + 4.5, top: ys[i] - 1.5, width: 3, height: 3, background: KM_COLORS[i] }} />
          <T x={tx} y={ys[i]} left bold={false} size={9.7} color="#222">{n}</T>
        </React.Fragment>
      ))}
    </>
  );
}

const cellStyle: React.CSSProperties = {
  border: '1.5px solid #9a9a9a', textAlign: 'center', padding: 0, height: 18, lineHeight: '15px',
  boxSizing: 'border-box', overflow: 'hidden', whiteSpace: 'nowrap',
};

export default function App() {
  const specs = useMemo(() => buildSpecs(), []);
  const L = (ch: string, x: number, y: number) => <T x={x} y={y} size={16} family={SANS}>{ch}</T>;
  return (
    <div style={{ position: 'absolute', left: 0, top: 0, width: 834, height: 1050, background: '#fff', overflow: 'hidden' }}>
      {specs.map((sp, i) => <ChartBox key={i} spec={sp} />)}

      {L('A', 12, 9)}{L('B', 419, 9)}
      {L('C', 12, 213)}{L('D', 207, 213)}{L('E', 412, 213)}{L('F', 608, 213)}
      {L('G', 12, 447)}{L('H', 208, 447)}{L('I', 7, 722)}

      <T x={115} y={16}>Mammospheres in vivo</T>
      <T x={301} y={18}>Serial mammospheres in vivo</T>
      <T x={501} y={19}>ALDH1<sup style={{ fontSize: 9 }}>+</sup> in vivo</T>
      <T x={312} y={220}>Mammospheres in vivo</T>
      <T x={715} y={220}>Mammospheres in vivo</T>
      <T x={310} y={455}>Mammospheres in vivo</T>
      <T x={507} y={457}>Serial mammospheres in vivo</T>

      <T x={628} y={5} size={8}>AL + ALDH inhibitor</T>
      <T x={730} y={5} size={8}>AL ALDH+</T>
      <T x={630} y={100} size={8}>FMD + ALDH inhibitor</T>
      <T x={733} y={100} size={8}>FMD ALDH+</T>
      <T x={580} y={90} size={10} rot={-90}>SCC</T>
      <div style={{ position: 'absolute', left: 588, top: 49, width: 1.3, height: 81, background: '#222' }} />
      <div style={{ position: 'absolute', left: 630, top: 185, width: 120, height: 1.3, background: '#222' }} />
      <T x={687} y={196} size={11}>Aldefluor</T>

      <T x={120} y={732} size={11.5}>100.000 cells</T>
      <T x={377} y={735} size={11.5}>10.000 cells</T>
      <T x={619} y={734} size={11.5}>1.000 cells</T>
      <T x={115} y={880} size={10}>Days</T>
      <T x={382} y={879} size={10}>Days</T>
      <T x={627} y={879} size={10}>Days</T>
      <KMLegend x={138} tx={157} ys={[754, 769, 783, 798]} />
      <KMLegend x={396} tx={410} ys={[759, 773, 788, 803]} />
      <KMLegend x={712} tx={729} ys={[762, 776, 790, 805]} />

      <svg width={834} height={1050} style={{ position: 'absolute', left: 0, top: 0, pointerEvents: 'none' }}>
        <path d="M 563 882 C 545 886, 532 905, 531 929" fill="none" stroke="#111" strokeWidth={1.5} />
        <polygon points="520,928 542,928 531,940" fill="#fff" stroke="#111" strokeWidth={1.5} />
      </svg>

      <T x={645} y={921} bold={false} size={12.7} color="#222">Confidence intervals for</T>
      <T x={645} y={935} bold={false} size={12.7} color="#222">1/(stem cell frequency)</T>
      <div style={{ position: 'absolute', left: 541, top: 942, border: '3px solid #555', background: '#fff' }}>
        <table style={{ borderCollapse: 'separate', borderSpacing: 1, font: `bold 13px ${SERIF}`, color: '#111', tableLayout: 'fixed', width: 201 }}>
          <tbody>
            <tr>
              <td style={{ ...cellStyle, width: 66 }}>Group</td>
              <td style={{ ...cellStyle, width: 37 }}>Lower</td>
              <td style={{ ...cellStyle, width: 54 }}>Estimate</td>
              <td style={{ ...cellStyle, width: 39 }}>Upper</td>
            </tr>
            {T_GROUPS.map((g, i) => (
              <tr key={g}>
                <td style={cellStyle}>{g}</td>
                <td style={cellStyle}>{T_LOWER[i]}</td>
                <td style={cellStyle}>{T_EST[i]}</td>
                <td style={cellStyle}>{T_UPPER[i]}</td>
              </tr>
            ))}
          </tbody>
        </table>
      </div>
      <div style={{ position: 'absolute', left: 650, top: 942, width: 54, height: 104, border: '2px solid #e0262a' }} />

      {CSC_LINES.map((s, i) => (
        <T key={i} x={300} y={980 + i * 14.3} left bold={false} size={11.3} color="#333">{s}</T>
      ))}
    </div>
  );
}
